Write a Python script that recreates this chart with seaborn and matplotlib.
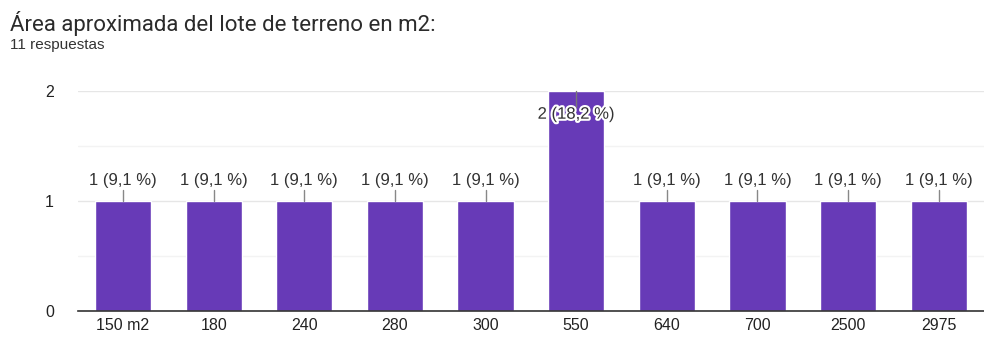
import matplotlib
matplotlib.use("Agg")
import matplotlib.pyplot as plt
import matplotlib.patheffects as pe
import seaborn as sns
import pandas as pd

categories = ["150 m2", "180", "240", "280", "300", "550", "640", "700", "2500", "2975"]
counts = [1, 1, 1, 1, 1, 2, 1, 1, 1, 1]
total = 11

df = pd.DataFrame({"area": categories, "count": counts})

sns.set_theme(style="white")
plt.rcParams["font.family"] = ["Liberation Sans", "DejaVu Sans"]

fig = plt.figure(figsize=(9.84, 3.4), dpi=100)
ax = fig.add_axes([0.079, 0.085, 0.921, 0.647])

sns.barplot(data=df, x="area", y="count", color="#673ab7", saturation=1,
            width=0.62, ax=ax, zorder=3)

ax.set_ylim(0, 2)
ax.set_xlim(-0.5, len(categories) - 0.5)
ax.set_yticks([0, 1, 2])
ax.set_yticks([0.5, 1.5], minor=True)
ax.grid(axis="y", which="major", color="#e6e6e6", lw=1, zorder=0)
ax.grid(axis="y", which="minor", color="#f3f3f3", lw=1, zorder=0)
for s in ["top", "right", "left"]:
    ax.spines[s].set_visible(False)
ax.spines["bottom"].set_color("#333333")
ax.spines["bottom"].set_linewidth(1.2)
ax.spines["bottom"].set_zorder(4)
ax.set_xlabel("")
ax.set_ylabel("")
ax.tick_params(axis="both", length=0, labelsize=11.5, colors="#222222")
ax.tick_params(axis="y", pad=17)
ax.tick_params(axis="x", pad=5)

# value labels with short leader lines
for i, c in enumerate(counts):
    pct = f"{c / total * 100:.1f}".replace(".", ",")
    label = f"{c} ({pct} %)"
    if c >= 2:
        ax.plot([i, i], [c, c - 0.14], color="#777777", lw=1, zorder=5, clip_on=False)
        ax.text(i, c - 0.21, label, ha="center", va="center", fontsize=12,
                color="#333333", zorder=6,
                path_effects=[pe.withStroke(linewidth=3, foreground="white")])
    else:
        ax.plot([i, i], [c, c + 0.1], color="#888888", lw=1, zorder=5)
        ax.text(i, c + 0.19, label, ha="center", va="center", fontsize=12,
                color="#333333", zorder=6)

fig.text(0.010, 0.930, "Área aproximada del lote de terreno en m2:",
         fontsize=16, color="#2b2b2b", ha="left", va="center",
         family=["Roboto", "DejaVu Sans"])
fig.text(0.010, 0.868, "11 respuestas", fontsize=11, color="#333333",
         ha="left", va="center")

fig.savefig("out.png", dpi=100, facecolor="white")
